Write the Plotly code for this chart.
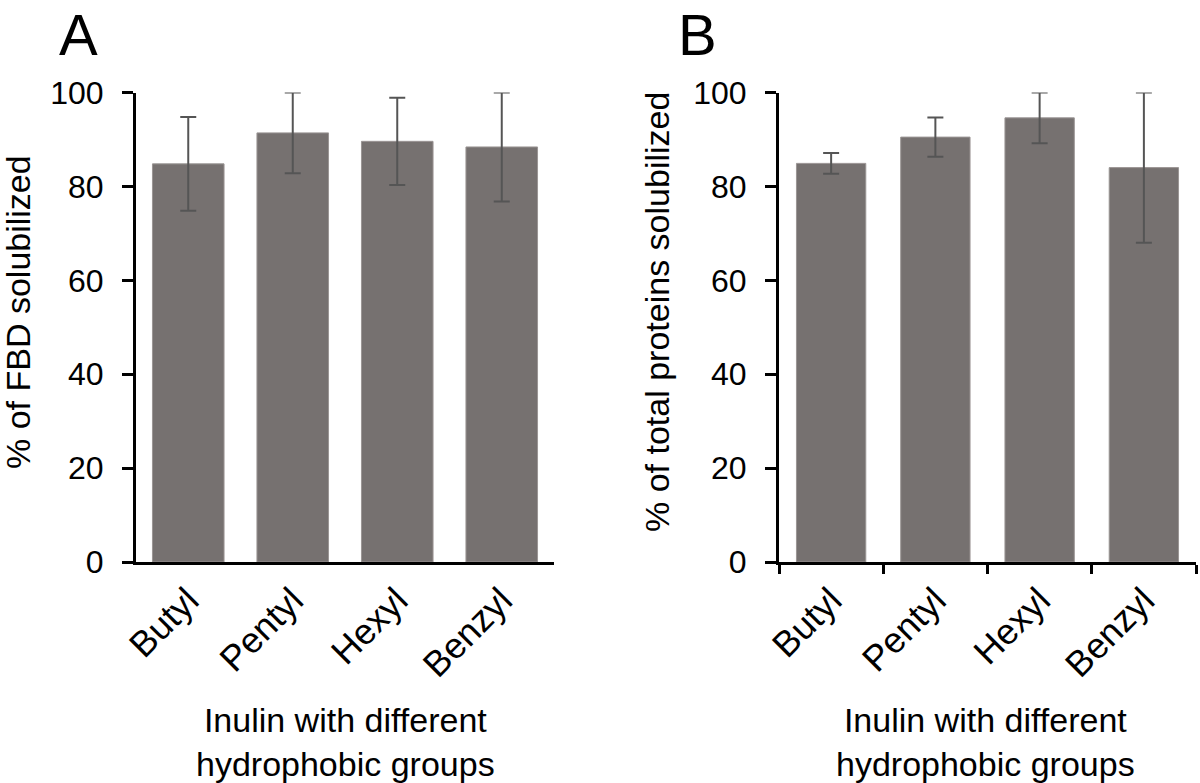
import plotly.graph_objects as go

categories = ["Butyl", "Pentyl", "Hexyl", "Benzyl"]
fbd_mean = [84.8, 91.4, 89.6, 88.4]
fbd_err = [10.0, 8.6, 9.3, 11.6]
total_mean = [84.9, 90.5, 94.6, 84.0]
total_err = [2.2, 4.2, 5.4, 16.0]

y_ticks = [0, 20, 40, 60, 80, 100]

BAR = "#767170"
ERR = "#555555"
FONT = "Liberation Sans, Arial, sans-serif"

fig = go.Figure()

fig.add_trace(go.Bar(
    x=categories, y=fbd_mean, xaxis="x", yaxis="y",
    marker=dict(color=BAR, line=dict(color="#9a9594", width=1)),
    width=0.685,
    error_y=dict(type="data", array=fbd_err, visible=True, color=ERR, thickness=2, width=8),
    showlegend=False,
))
fig.add_trace(go.Bar(
    x=categories, y=total_mean, xaxis="x2", yaxis="y2",
    marker=dict(color=BAR, line=dict(color="#9a9594", width=1)),
    width=0.665,
    error_y=dict(type="data", array=total_err, visible=True, color=ERR, thickness=2, width=8),
    showlegend=False,
))

W, H = 1200, 783
ybot, ytop = 562, 92.5
ydom = [1 - ybot / H, 1 - ytop / H]

yax = dict(range=[0, 100], tickvals=y_ticks, showline=True, linecolor="black", linewidth=3,
           ticks="outside", ticklen=11, tickwidth=3, tickcolor="black", showgrid=False,
           zeroline=False, tickfont=dict(size=32, color="black", family=FONT),
           ticklabelstandoff=12, domain=ydom, automargin=False)

xfont = dict(size=36, color="black", family=FONT)

fig.update_layout(
    width=W, height=H,
    margin=dict(l=0, r=0, t=0, b=0, autoexpand=False),
    paper_bgcolor="white", plot_bgcolor="white",
    font=dict(family=FONT, color="black"),
    xaxis=dict(domain=[136 / W, 554 / W], anchor="y", showline=True, linecolor="black",
               linewidth=3, ticks="", showgrid=False, tickangle=-45, automargin=False,
               tickfont=xfont, range=[-0.5, 3.5]),
    yaxis=dict(anchor="x", **yax),
    xaxis2=dict(domain=[779 / W, 1196 / W], anchor="y2", showline=True, linecolor="black",
                linewidth=3, ticks="outside", ticklen=9, tickwidth=3, tickcolor="black",
                tickson="boundaries", showgrid=False, tickangle=-45, automargin=False,
                tickfont=xfont, range=[-0.5, 3.5]),
    yaxis2=dict(anchor="x2", **yax),
)

ann = [
    dict(text="A", x=78 / W, y=1.0, yanchor="top", font=dict(size=58)),
    dict(text="B", x=697 / W, y=1.0, yanchor="top", font=dict(size=58)),
    dict(text="% of FBD solubilized", x=18 / W, y=1 - 312 / H, textangle=-90, font=dict(size=34)),
    dict(text="% of total proteins solubilized", x=657 / W, y=1 - 312 / H, textangle=-90, font=dict(size=34)),
    dict(text="Inulin with different<br>hydrophobic groups", x=345 / W, y=1 - 742 / H, font=dict(size=34)),
    dict(text="Inulin with different<br>hydrophobic groups", x=985 / W, y=1 - 742 / H, font=dict(size=34)),
]
for a in ann:
    a.setdefault("yanchor", "middle")
    a.update(xref="paper", yref="paper", showarrow=False, xanchor="center")
    a["font"].update(color="black", family=FONT)
fig.update_layout(annotations=ann)

fig.write_html(
    "out.html",
    config={"displayModeBar": False},
    post_script="document.body.style.margin='0';document.body.style.overflow='hidden';",
)
